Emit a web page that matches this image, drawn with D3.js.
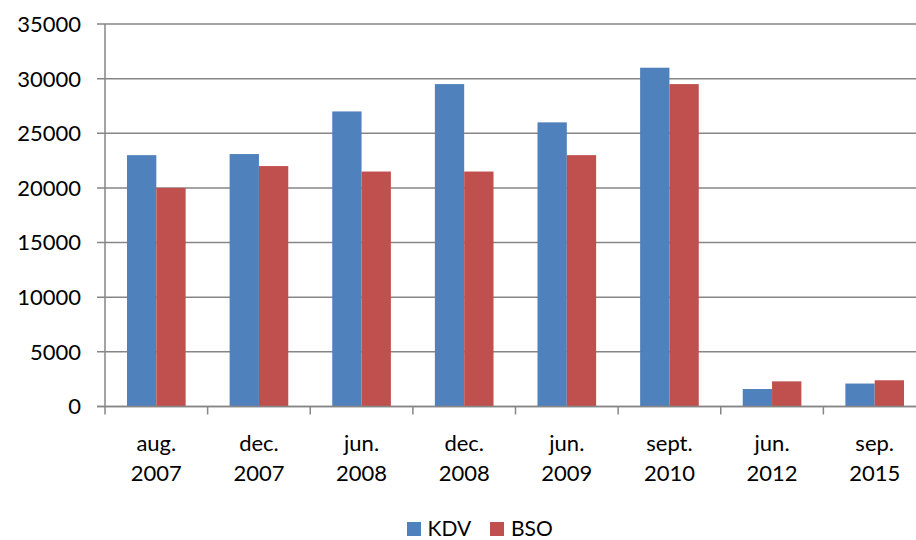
<!DOCTYPE html>
<html><head><meta charset="utf-8">
<script src="https://cdn.jsdelivr.net/npm/d3@7"></script>
<style>body{margin:0;background:#fff}svg{display:block}text{font-family:Lato,"Open Sans",sans-serif;fill:#000}</style>
</head><body>
<svg id="c" width="916" height="540"></svg>
<script>
const categories = [["aug.","2007"],["dec.","2007"],["jun.","2008"],["dec.","2008"],["jun.","2009"],["sept.","2010"],["jun.","2012"],["sep.","2015"]];
const seriesNames = ["KDV","BSO"];
const kdv = [23000,23100,27000,29500,26000,31000,1600,2100];
const bso = [20000,22000,21500,21500,23000,29500,2300,2400];
const yTicks = [0,5000,10000,15000,20000,25000,30000,35000];
const colors = ["#4F81BD","#C0504D"];

(function(){
const svg = d3.select("#c");
const pL = 105, pR = 926, pT = 24, pB = 406.5;
const x = d3.scaleBand().domain(d3.range(categories.length)).range([pL,pR]).paddingInner(0).paddingOuter(0);
const y = d3.scaleLinear().domain([0,35000]).range([pB,pT]);
const bw = x.bandwidth()/3.5;
const gridColor = "#868686";

svg.append("g").selectAll("line").data(yTicks).join("line")
  .attr("x1",pL-8).attr("x2",pR).attr("y1",d=>y(d)).attr("y2",d=>y(d))
  .attr("stroke",gridColor).attr("stroke-width",1.5);

const data = categories.map((c,i)=>[kdv[i],bso[i]]);
const g = svg.append("g");
data.forEach((vals,i)=>{
  vals.forEach((v,j)=>{
    g.append("rect")
      .attr("x", x(i) + x.bandwidth()/2 - bw + j*bw)
      .attr("y", y(v)).attr("width", bw).attr("height", y(0)-y(v))
      .attr("fill", colors[j]);
  });
});

svg.append("line").attr("x1",pL).attr("x2",pL).attr("y1",pT).attr("y2",pB)
  .attr("stroke",gridColor).attr("stroke-width",1.5);
svg.append("line").attr("x1",pL-8).attr("x2",pR).attr("y1",pB).attr("y2",pB)
  .attr("stroke",gridColor).attr("stroke-width",1.5);
svg.append("g").selectAll("line").data(d3.range(categories.length+1)).join("line")
  .attr("x1",d=>pL+d*x.step()).attr("x2",d=>pL+d*x.step())
  .attr("y1",pB).attr("y2",pB+8)
  .attr("stroke",gridColor).attr("stroke-width",1.5);

svg.append("g").selectAll("text").data(yTicks).join("text")
  .attr("x",81).attr("y",d=>y(d)).attr("dy","0.36em")
  .attr("text-anchor","end").attr("font-size",22).text(d=>d);

const xl = svg.append("g").selectAll("text").data(categories).join("text")
  .attr("text-anchor","middle").attr("font-size",22)
  .attr("transform",(d,i)=>`translate(${x(i)+x.bandwidth()/2},0)`);
xl.append("tspan").attr("x",0).attr("y",451).text(d=>d[0]);
xl.append("tspan").attr("x",0).attr("y",481).text(d=>d[1]);

const leg = [{x:407,tx:427.5},{x:490,tx:511}];
seriesNames.forEach((n,i)=>{
  svg.append("rect").attr("x",leg[i].x).attr("y",522).attr("width",14).attr("height",14).attr("fill",colors[i]);
  svg.append("text").attr("x",leg[i].tx).attr("y",529).attr("dy","0.35em").attr("font-size",21).text(n);
});
})();
</script>
</body></html>
